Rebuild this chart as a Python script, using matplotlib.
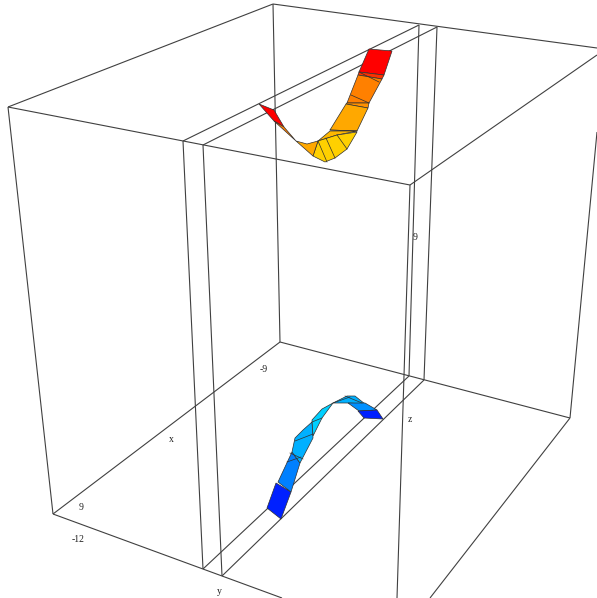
import matplotlib
matplotlib.use('Agg')
import matplotlib.pyplot as plt
from matplotlib.patches import Polygon

# box edges, projected points
box_edges = [
    [(8, 107), (273, 4)], [(273, 4), (597, 48)], [(8, 107), (410, 185)], [(410, 185), (597, 55)],
    [(8, 107), (53, 514)], [(273, 4), (280, 342)], [(410, 185), (397, 598)],
    [(53, 514), (280, 342)], [(280, 342), (570, 418)], [(53, 514), (282, 598)],
    [(570, 418), (597, 132)], [(570, 418), (430, 598)],
]

# the two thin slab planes
slab_edges = [
    [(183, 141), (419, 25)], [(203, 145), (437, 27)],
    [(183, 141), (203, 569)], [(203, 145), (222, 576)],
    [(419, 25), (409, 376)], [(437, 27), (424, 380)],
    [(203, 569), (409, 376)], [(222, 576), (424, 380)],
]

upper_quads = [
    [(369, 49), (392, 51), (384, 75), (359, 72)],
    [(359, 72), (384, 75), (382, 79), (358, 75)],
    [(358, 75), (382, 79), (369, 103), (347, 103)],
    [(347, 103), (369, 103), (368, 108), (346, 104)],
    [(346, 104), (368, 108), (357, 131), (330, 130)],
    [(330, 131), (357, 131), (337, 135), (318, 141)],
    [(318, 141), (337, 135), (357, 132), (347, 149), (335, 158), (325, 162), (313, 156)],
    [(296, 141), (307, 144), (318, 141), (313, 156)],
    [(259, 104), (274, 110), (284, 127), (274, 121)],
    [(274, 121), (284, 127), (296, 141)],
]
upper_colors = ['#ff0000', '#ff3000', '#ff8000', '#ff9000', '#ffa800', '#ffb800',
                '#ffd000', '#ffa800', '#ff0000', '#ff8000']
# mesh lines that cross the upper band
upper_mesh = [
    [(359, 72), (379, 82)], [(351, 95), (369, 103)], [(330, 130), (357, 131)],
    [(337, 135), (347, 149)], [(326, 138), (335, 158)], [(318, 141), (327, 162)],
]

lower_quads = [
    [(276, 483), (291, 492), (281, 519), (267, 508)],
    [(278, 482), (291, 492), (300, 463), (292, 452), (285, 467)],
    [(292, 452), (300, 463), (313, 438), (312, 422), (303, 430), (295, 438)],
    [(312, 420), (322, 409), (333, 403), (322, 418), (313, 436)],
    [(333, 403), (347, 396), (355, 396), (365, 404), (348, 403)],
    [(348, 403), (365, 403), (377, 410), (359, 411)],
    [(358, 411), (377, 410), (383, 419), (364, 418)],
]
lower_colors = ['#0020ff', '#0080ff', '#00b0ff', '#00d0ff', '#00b0ff', '#0090ff', '#0020ff']
# mesh lines that cross the lower band
lower_mesh = [
    [(287, 462), (301, 457)], [(290, 453), (303, 459)], [(295, 441), (313, 434)],
    [(312, 422), (322, 418)], [(333, 403), (350, 397)], [(345, 396), (362, 403)],
]

labels = ['-9', 'x', 'z', 'y', '9', '-12', '9']
label_x = [264, 171, 410, 219, 81, 78, 415]
label_y = [369, 439, 420, 591, 508, 539, 237]

fig = plt.figure(figsize=(5.97, 5.98), dpi=100)
ax = fig.add_axes([0, 0, 1, 1])
ax.set_xlim(0, 597)
ax.set_ylim(598, 0)
ax.axis('off')

for edge in box_edges + slab_edges:
    xs, ys = zip(*edge)
    ax.plot(xs, ys, color='#404040', lw=0.8, solid_capstyle='butt', zorder=1)

for quads, colors in [(upper_quads, upper_colors), (lower_quads, lower_colors)]:
    for quad, c in zip(quads, colors):
        ax.add_patch(Polygon(quad, closed=True, facecolor=c, edgecolor='#303030', lw=0.5, zorder=2))

for seg in upper_mesh + lower_mesh:
    xs, ys = zip(*seg)
    ax.plot(xs, ys, color='#303030', lw=0.5, zorder=3)

for t, x, y in zip(labels, label_x, label_y):
    ax.text(x, y, t, family='Liberation Serif', fontsize=7, color='#202020', ha='center', va='center')

fig.savefig('out.png', dpi=100)
